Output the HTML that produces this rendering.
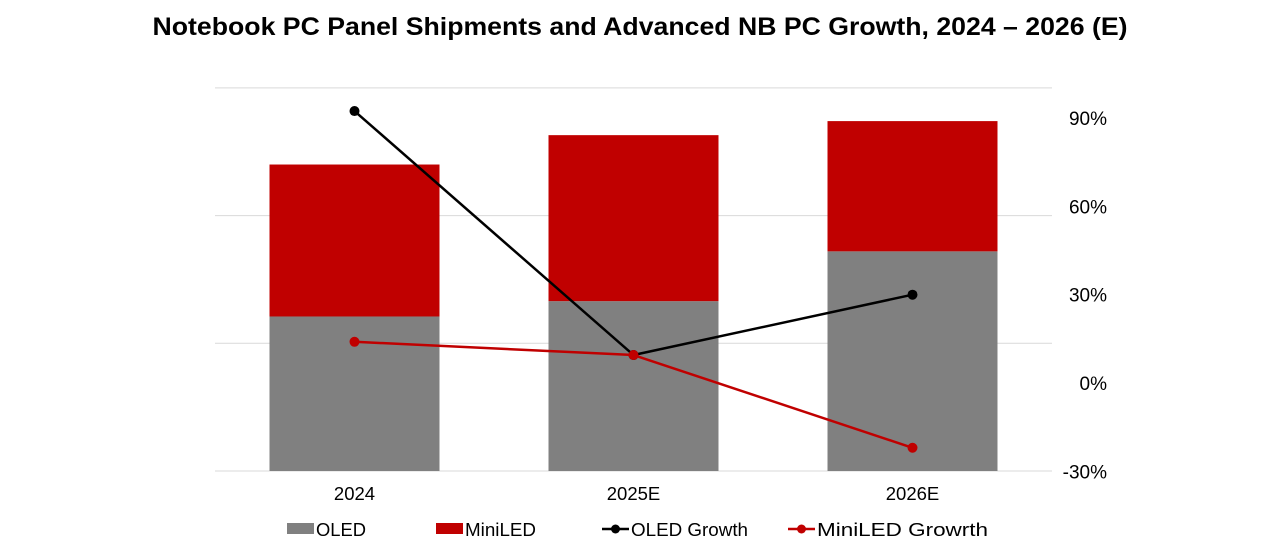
<!DOCTYPE html>
<html><head><meta charset="utf-8"><style>
body{margin:0;background:#fff;width:1280px;height:545px;overflow:hidden;font-family:"Liberation Sans",Arial,sans-serif}
</style></head><body>
<svg id="chart" width="1280" height="545">
<text x="640" y="35" text-anchor="middle" font-size="25" font-weight="bold" fill="#000" textLength="975" lengthAdjust="spacingAndGlyphs">Notebook PC Panel Shipments and Advanced NB PC Growth, 2024 – 2026 (E)</text>
<g id="grid"></g><g id="bars"></g><g id="lines"></g><g id="axes"></g><g id="legend"></g>
</svg>
<script>
const categories=["2024","2025E","2026E"];
const oledValues=[1.21,1.33,1.72];
const miniledValues=[1.19,1.30,1.02];
const oledGrowth=[92.4,9.5,30];
const miniledGrowth=[14,9.5,-22];
const rightTicks=[-30,0,30,60,90];
const rightTickLabels=["-30%","0%","30%","60%","90%"];
const leftGrid=[0,1,2,3];
const NS="http://www.w3.org/2000/svg";
const X0=215,X1=1052,Y0=471;
const band=(X1-X0)/categories.length;
const xc=i=>X0+band*(i+0.5);
const yL=v=>Y0-v*127.7;
const yR=p=>383-p*88.3/30;
function mk(t,a,p){const e=document.createElementNS(NS,t);for(const k in a)e.setAttribute(k,a[k]);document.getElementById(p).appendChild(e);return e;}
leftGrid.forEach(v=>{const l=mk('line',{x1:X0,x2:X1,y1:yL(v),y2:yL(v),stroke:'#d9d9d9','stroke-width':1},'grid');

});
categories.forEach((c,i)=>{
 const w=170,x=xc(i)-w/2;
 const a=mk('rect',{x:x,y:yL(oledValues[i]),width:w,height:yL(0)-yL(oledValues[i]),fill:'#808080'},'bars');
 
 
 const tot=oledValues[i]+miniledValues[i];
 const b=mk('rect',{x:x,y:yL(tot),width:w,height:yL(oledValues[i])-yL(tot),fill:'#c00000'},'bars');
 
 
 const t=mk('text',{x:xc(i),y:500,'text-anchor':'middle','font-size':18.5,fill:'#000'},'axes');t.textContent=c;
 
 
});
rightTicks.forEach((v,i)=>{const t=mk('text',{x:1107,y:yR(v)+7,'text-anchor':'end','font-size':19,fill:'#000'},'axes');t.textContent=rightTickLabels[i];
 
 });
function series(vals,col,name){
 const pl=mk('polyline',{points:vals.map((v,i)=>xc(i)+','+yR(v)).join(' '),fill:'none',stroke:col,'stroke-width':2.5},'lines');
 
 
 vals.forEach((v,i)=>{const c=mk('circle',{cx:xc(i),cy:yR(v),r:5,fill:col},'lines');
  
  });
}
series(oledGrowth,'#000','oled-growth');
series(miniledGrowth,'#c00000','miniled-growth');
function addText(g,x,label,len){const t=document.createElementNS(NS,'text');t.setAttribute('x',x);t.setAttribute('y',536);t.setAttribute('font-size',18.5);t.setAttribute('textLength',len);t.setAttribute('lengthAdjust','spacingAndGlyphs');t.textContent=label;g.appendChild(t);}
function legendRect(x,col,label,name,len){
 const g=mk('g',{},'legend');
 const r=document.createElementNS(NS,'rect');r.setAttribute('x',x);r.setAttribute('y',523);r.setAttribute('width',27);r.setAttribute('height',11);r.setAttribute('fill',col);g.appendChild(r);
 addText(g,x+29,label,len);
}
function legendLine(x,col,label,name,len){
 const g=mk('g',{},'legend');
 const l=document.createElementNS(NS,'line');l.setAttribute('x1',x);l.setAttribute('x2',x+27);l.setAttribute('y1',529);l.setAttribute('y2',529);l.setAttribute('stroke',col);l.setAttribute('stroke-width',2.5);g.appendChild(l);
 const c=document.createElementNS(NS,'circle');c.setAttribute('cx',x+13.5);c.setAttribute('cy',529);c.setAttribute('r',4.5);c.setAttribute('fill',col);g.appendChild(c);
 addText(g,x+29,label,len);
}
legendRect(287,'#808080','OLED','legend-oled',50);
legendRect(436,'#c00000','MiniLED','legend-miniled',71);
legendLine(602,'#000','OLED Growth','legend-oled-growth',117);
legendLine(788,'#c00000','MiniLED Growrth','legend-miniled-growth',171);
</script>
</body></html>
